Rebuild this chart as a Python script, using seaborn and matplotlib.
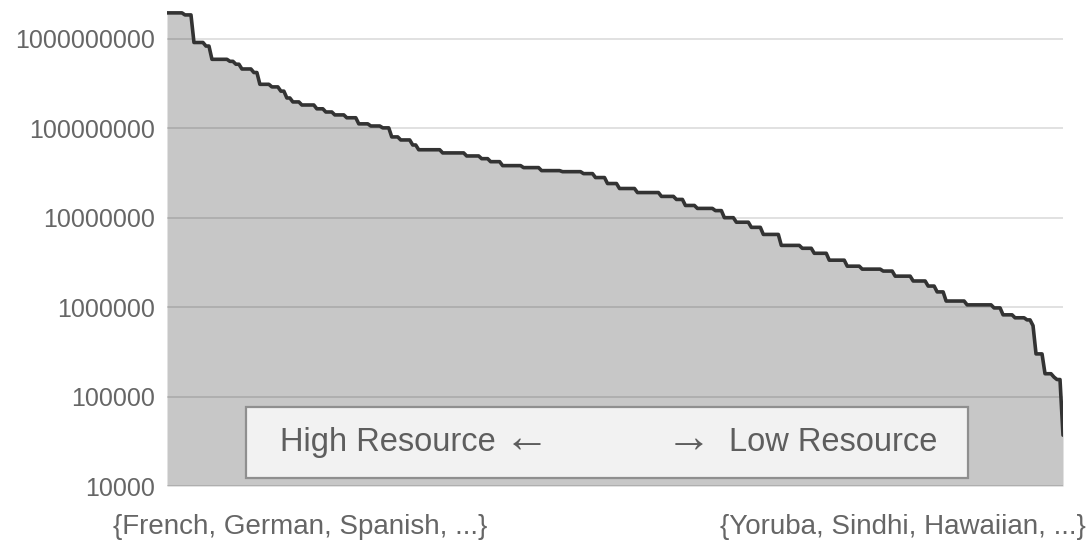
import numpy as np
import pandas as pd
import matplotlib
matplotlib.use("Agg")
import matplotlib.pyplot as plt
from matplotlib.patches import Rectangle
import seaborn as sns

# Languages ranked by amount of available text (tokens), run-length encoded:
# each run starts at `run_start` and every language in it has `run_tokens`.
n_languages = 300
run_start = [0, 6, 9, 13, 15, 21, 23, 25, 29, 31, 35, 38, 40, 42, 45, 50, 53,
             56, 60, 64, 68, 72, 75, 78, 82, 84, 92, 100, 105, 108, 112, 119,
             125, 132, 139, 143, 147, 151, 157, 165, 170, 173, 177, 183, 186,
             190, 195, 199, 205, 212, 216, 221, 227, 232, 239, 243, 249, 254,
             257, 260, 267, 276, 279, 283, 287, 289, 290, 293, 296, 297, 299]
run_tokens = [1.95e9, 1.85e9, 9.1e8, 8.3e8, 5.9e8, 5.6e8, 5.2e8, 4.6e8, 4.2e8,
              3.1e8, 2.9e8, 2.6e8, 2.18e8, 1.97e8, 1.82e8, 1.65e8, 1.52e8,
              1.41e8, 1.31e8, 1.12e8, 1.06e8, 1.01e8, 8.0e7, 7.4e7, 6.5e7,
              5.75e7, 5.3e7, 4.9e7, 4.57e7, 4.23e7, 3.82e7, 3.63e7, 3.36e7,
              3.27e7, 3.11e7, 2.81e7, 2.41e7, 2.12e7, 1.91e7, 1.73e7, 1.6e7,
              1.37e7, 1.27e7, 1.2e7, 1.0e7, 8.9e6, 7.8e6, 6.5e6, 4.9e6, 4.55e6,
              4.0e6, 3.35e6, 2.87e6, 2.66e6, 2.53e6, 2.22e6, 1.96e6, 1.72e6,
              1.48e6, 1.17e6, 1.06e6, 9.8e5, 8.2e5, 7.6e5, 7.2e5, 6.2e5, 3.0e5,
              1.8e5, 1.65e5, 1.55e5, 3.7e4]

y_ticks = [1e4, 1e5, 1e6, 1e7, 1e8, 1e9]
y_tick_labels = ["10000", "100000", "1000000", "10000000", "100000000",
                 "1000000000"]
high_label = "{French, German, Spanish, ...}"
low_label = "{Yoruba, Sindhi, Hawaiian, ...}"
box_high_text = "High Resource"
box_low_text = "Low Resource"
arrow_left = "\u2190"
arrow_right = "\u2192"

run_len = np.diff(run_start + [n_languages])
tokens = np.repeat(run_tokens, run_len)
df = pd.DataFrame({"rank": np.arange(n_languages), "tokens": tokens})

sns.set_theme(style="white")
plt.rcParams["font.family"] = ["Liberation Sans", "DejaVu Sans"]

text_grey = "#666666"
box_grey = "#5e5e5e"
fig = plt.figure(figsize=(10.89, 5.53), dpi=100)
ax = fig.add_axes([167 / 1089, 67 / 553, 896 / 1089, 476 / 553])

ax.fill_between(df["rank"], 1e4, df["tokens"], color="#c7c7c7", lw=0,
                zorder=1)
sns.lineplot(data=df, x="rank", y="tokens", ax=ax, color="#333333",
             linewidth=2.6, zorder=4)

ax.set_yscale("log")
ax.set_ylim(1e4, 2.1e9)
ax.set_xlim(0, n_languages - 1)
ax.set_yticks(y_ticks)
ax.set_yticklabels(y_tick_labels)
ax.minorticks_off()
ax.set_xticks([])
ax.set_xlabel("")
ax.set_ylabel("")
ax.tick_params(axis="y", length=0, pad=9, labelsize=18, labelcolor=text_grey)

ax.set_axisbelow(False)
ax.yaxis.grid(True, color="black", alpha=0.13, linewidth=1.3, zorder=2)
ax.xaxis.grid(False)
for s in ax.spines.values():
    s.set_visible(False)

# Legend-like box explaining the direction of the ranking
ax.add_patch(Rectangle((0.088, 0.017), 0.806, 0.149, transform=ax.transAxes,
                       facecolor="#f2f2f2", edgecolor="#8f8f8f", linewidth=1.6,
                       zorder=5))
ty = 0.091
ax.text(0.126, ty, box_high_text, transform=ax.transAxes, ha="left",
        va="center", fontsize=23.5, color=box_grey, zorder=6)
ax.text(0.8595, ty, box_low_text, transform=ax.transAxes, ha="right",
        va="center", fontsize=23.5, color=box_grey, zorder=6)
ax.text((527 - 167) / 896, ty + 0.007, arrow_left, transform=ax.transAxes,
        ha="center", va="center", fontsize=33, color=box_grey, zorder=6)
ax.text((689 - 167) / 896, ty + 0.007, arrow_right, transform=ax.transAxes,
        ha="center", va="center", fontsize=33, color=box_grey, zorder=6)

fig.text(113 / 1089, 1 - 527 / 553, high_label, ha="left", va="center",
         fontsize=20, color=text_grey)
fig.text(1086 / 1089, 1 - 527 / 553, low_label, ha="right", va="center",
         fontsize=20, color=text_grey)

fig.savefig("out.png", dpi=100, facecolor="white")
